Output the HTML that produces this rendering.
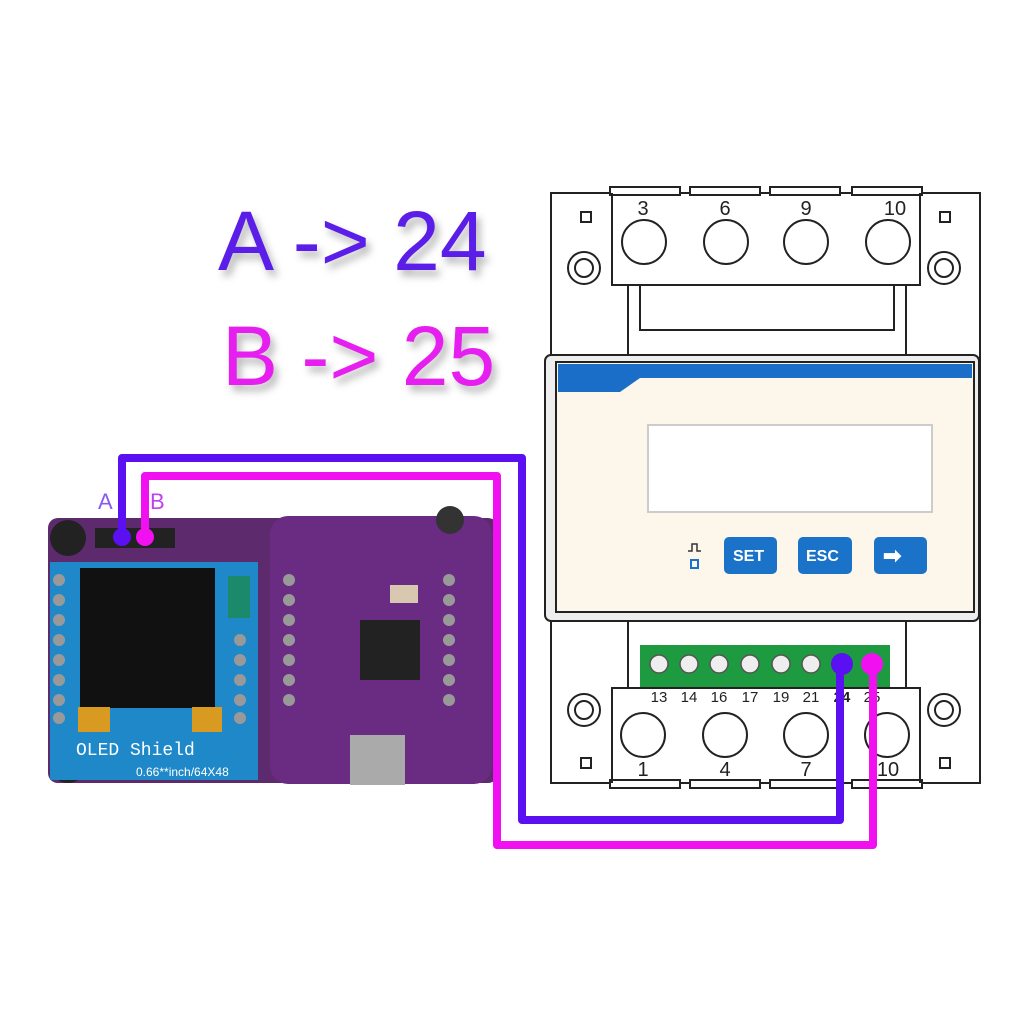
<!DOCTYPE html>
<html><head><style>body{margin:0;background:#fff}svg{display:block}</style></head><body>
<svg width="1024" height="1024" viewBox="0 0 1024 1024" xmlns="http://www.w3.org/2000/svg" font-family="Liberation Sans, sans-serif">
<defs><filter id="sh" x="-20%" y="-20%" width="140%" height="140%"><feGaussianBlur stdDeviation="4"/></filter></defs>
<rect width="1024" height="1024" fill="#fff"/>
<!-- titles -->
<g font-size="84">
<text x="222" y="276" fill="#888" filter="url(#sh)" opacity="0.6">A -&gt; 24</text>
<text x="218" y="270" fill="#5a1ee8">A -&gt; 24</text>
<text x="226" y="391" fill="#888" filter="url(#sh)" opacity="0.6">B -&gt; 25</text>
<text x="222" y="385" fill="#e61ef0">B -&gt; 25</text>
</g>
<!-- meter -->
<g stroke="#222" stroke-width="2" fill="#fff">
<rect x="551" y="193" width="429" height="590"/>
<rect x="610" y="187" width="70" height="8"/><rect x="690" y="187" width="70" height="8"/><rect x="770" y="187" width="70" height="8"/><rect x="852" y="187" width="70" height="8"/>
<rect x="610" y="780" width="70" height="8"/><rect x="690" y="780" width="70" height="8"/><rect x="770" y="780" width="70" height="8"/><rect x="852" y="780" width="70" height="8"/>
<path d="M612 193 V285 H920 V193" fill="none"/>
<rect x="628" y="285" width="278" height="72"/>
<rect x="640" y="285" width="254" height="45"/>
<circle cx="644" cy="242" r="22"/><circle cx="726" cy="242" r="22"/><circle cx="806" cy="242" r="22"/><circle cx="888" cy="242" r="22"/>
<circle cx="584" cy="268" r="16"/><circle cx="584" cy="268" r="9"/><circle cx="944" cy="268" r="16"/><circle cx="944" cy="268" r="9"/>
<rect x="581" y="212" width="10" height="10"/><rect x="940" y="212" width="10" height="10"/>
<path d="M612 783 V688 H920 V783" fill="none"/>
<rect x="628" y="620" width="278" height="68"/>
<circle cx="643" cy="735" r="22"/><circle cx="725" cy="735" r="22"/><circle cx="806" cy="735" r="22"/><circle cx="887" cy="735" r="22"/>
<circle cx="584" cy="710" r="16"/><circle cx="584" cy="710" r="9"/><circle cx="944" cy="710" r="16"/><circle cx="944" cy="710" r="9"/>
<rect x="581" y="758" width="10" height="10"/><rect x="940" y="758" width="10" height="10"/>
<rect x="545" y="355" width="434" height="266" rx="6" fill="#eee"/>
<rect x="556" y="362" width="418" height="250" fill="#fdf6ea"/>
</g>
<path d="M558 364 H972 V378 H640 L620 392 H558Z" fill="#1a6ec8"/>
<rect x="648" y="425" width="284" height="87" fill="#fff" stroke="#ccc" stroke-width="2"/>
<g fill="#1a73c8"><rect x="724" y="537" width="53" height="37" rx="5"/><rect x="798" y="537" width="54" height="37" rx="5"/><rect x="874" y="537" width="53" height="37" rx="5"/></g>
<g fill="#fff" font-size="16" font-weight="bold"><text x="733" y="561">SET</text><text x="806" y="561">ESC</text><text x="883" y="563" font-size="22">➡</text></g>
<path d="M688 551 h4 v-7 h5 v7 h4" stroke="#333" stroke-width="1.5" fill="none"/><rect x="691" y="560" width="7" height="8" fill="none" stroke="#1a73c8" stroke-width="2"/>
<rect x="640" y="645" width="250" height="42" fill="#1e9a40"/>
<g fill="#eee" stroke="#555" stroke-width="1.5">
<circle cx="659" cy="664" r="9"/><circle cx="689" cy="664" r="9"/><circle cx="719" cy="664" r="9"/><circle cx="750" cy="664" r="9"/><circle cx="781" cy="664" r="9"/><circle cx="811" cy="664" r="9"/></g>
<g font-size="15" fill="#222" text-anchor="middle"><text x="659" y="702">13</text><text x="689" y="702">14</text><text x="719" y="702">16</text><text x="750" y="702">17</text><text x="781" y="702">19</text><text x="811" y="702">21</text><text x="842" y="702" font-weight="bold">24</text><text x="872" y="702">25</text></g>
<g font-size="20" fill="#222" text-anchor="middle"><text x="643" y="215">3</text><text x="725" y="215">6</text><text x="806" y="215">9</text><text x="895" y="215">10</text><text x="643" y="776">1</text><text x="725" y="776">4</text><text x="806" y="776">7</text><text x="888" y="776">10</text></g>
<!-- board -->
<rect x="48" y="518" width="450" height="265" rx="10" fill="#5d2a6e"/>
<rect x="270" y="516" width="222" height="268" rx="18" fill="#6a2c82"/>
<circle cx="68" cy="538" r="18" fill="#222"/><circle cx="68" cy="765" r="18" fill="#222"/><circle cx="450" cy="520" r="14" fill="#333"/>
<rect x="95" y="528" width="80" height="20" fill="#222"/>
<rect x="50" y="562" width="208" height="218" fill="#1e88c8"/>
<rect x="80" y="568" width="135" height="140" fill="#111"/>
<rect x="228" y="576" width="22" height="42" fill="#1a8a6a"/>
<rect x="78" y="707" width="32" height="25" fill="#d89a20"/><rect x="192" y="707" width="30" height="25" fill="#d89a20"/>
<g fill="#999"><circle cx="59" cy="580" r="6"/><circle cx="59" cy="600" r="6"/><circle cx="59" cy="620" r="6"/><circle cx="59" cy="640" r="6"/><circle cx="59" cy="660" r="6"/><circle cx="59" cy="680" r="6"/><circle cx="59" cy="700" r="6"/><circle cx="59" cy="718" r="6"/>
<circle cx="240" cy="640" r="6"/><circle cx="240" cy="660" r="6"/><circle cx="240" cy="680" r="6"/><circle cx="240" cy="700" r="6"/><circle cx="240" cy="718" r="6"/>
<circle cx="289" cy="580" r="6"/><circle cx="289" cy="600" r="6"/><circle cx="289" cy="620" r="6"/><circle cx="289" cy="640" r="6"/><circle cx="289" cy="660" r="6"/><circle cx="289" cy="680" r="6"/><circle cx="289" cy="700" r="6"/>
<circle cx="449" cy="580" r="6"/><circle cx="449" cy="600" r="6"/><circle cx="449" cy="620" r="6"/><circle cx="449" cy="640" r="6"/><circle cx="449" cy="660" r="6"/><circle cx="449" cy="680" r="6"/><circle cx="449" cy="700" r="6"/></g>
<rect x="360" y="620" width="60" height="60" fill="#222"/>
<rect x="350" y="735" width="55" height="50" fill="#aaa"/>
<rect x="390" y="585" width="28" height="18" fill="#d8c8b0"/>
<text x="76" y="755" font-size="18" fill="#fff" font-family="Liberation Mono, monospace">OLED Shield</text>
<text x="136" y="776" font-size="12" fill="#fff">0.66**inch/64X48</text>
<!-- wires -->
<g fill="none" stroke-width="8" stroke-linejoin="round">
<path d="M122 537 V458 H522 V820 H840 V665" stroke="#5a10f0"/>
<path d="M145 537 V476 H497 V845 H873 V665" stroke="#f010f0"/>
</g>
<circle cx="122" cy="537" r="9" fill="#5a10f0"/><circle cx="145" cy="537" r="9" fill="#f010f0"/>
<circle cx="842" cy="664" r="11" fill="#5a10f0"/><circle cx="872" cy="664" r="11" fill="#f010f0"/>
<text x="98" y="509" font-size="22" fill="#8a5af0">A</text><text x="150" y="509" font-size="22" fill="#c040f0">B</text>
</svg>
</body></html>
